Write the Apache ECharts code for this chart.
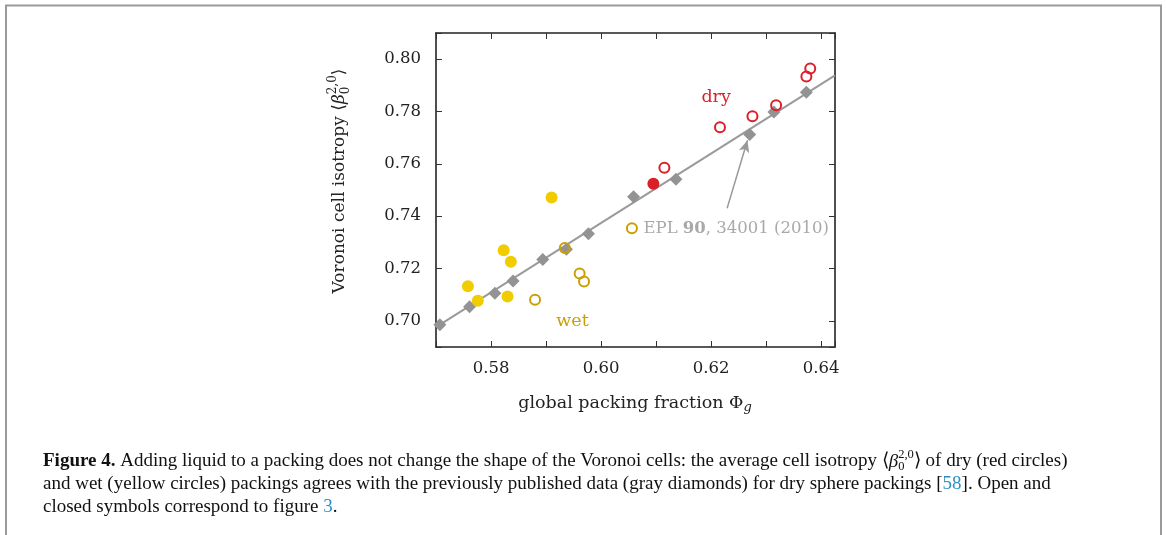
<!DOCTYPE html>
<html><head><meta charset="utf-8">
<script src="https://cdn.jsdelivr.net/npm/echarts@6/dist/echarts.min.js"></script>
<style>html,body{margin:0;padding:0;background:#fff}#c{width:1166px;height:535px}</style>
</head><body><div id="c"></div>
<script>
// ---- data ----
const xTickLabels = [0.58, 0.60, 0.62, 0.64];
const yTickLabels = [0.70, 0.72, 0.74, 0.76, 0.78, 0.80];
const literatureDiamonds = [[0.5707,0.6985],[0.5761,0.7054],[0.5807,0.7105],[0.5840,0.7152],[0.5894,0.7234],[0.5937,0.7274],[0.5977,0.7333],[0.6059,0.7474],[0.6136,0.7541],[0.6270,0.7712],[0.6314,0.7798],[0.6373,0.7874]];
const fitLine = [[0.5700,0.6976],[0.6425,0.7938]];
const dryOpen = [[0.6115,0.7585],[0.6216,0.7740],[0.6275,0.7782],[0.6318,0.7824],[0.6373,0.7934],[0.6380,0.7964]];
const dryClosed = [[0.6095,0.7524]];
const wetClosed = [[0.5758,0.7132],[0.5776,0.7077],[0.5823,0.7270],[0.5836,0.7226],[0.5830,0.7093],[0.5910,0.7471]];
const wetOpen = [[0.5880,0.7081],[0.5934,0.7278],[0.5961,0.7181],[0.5969,0.7150],[0.6056,0.7354]];

const SERIF = 'DejaVu Serif';
const CAP = 'Liberation Serif';
const RED = '#d9202a', YEL = '#f0cc00', GOLD = '#c9a000', GRAY = '#939393';

const ctx = document.createElement('canvas').getContext('2d');
function fontStr(p){ return `${p.st||'normal'} ${p.w||'normal'} ${p.size}px "${p.fam}"`; }
function meas(p){ ctx.font = fontStr(p); return ctx.measureText(p.t).width; }
function txt(p, x, y){
  return {type:'text', x:x, y:y+(p.dy||0), silent:true,
    style:{text:p.t, fill:p.c||'#222', fontSize:p.size, fontFamily:p.fam, fontWeight:p.w||'normal', fontStyle:p.st||'normal',
      align:'left', verticalAlign:'middle', textAlign:'left', textVerticalAlign:'middle'}};
}
function run(pieces, def){
  const out=[]; let x=0;
  pieces.forEach(p=>{
    if(p.stack){
      let w=0; p.stack.forEach(q=>{q=Object.assign({},def,q); out.push(txt(q,x,0)); w=Math.max(w,meas(q));});
      x+=w;
    } else {
      const q=Object.assign({},def,p); out.push(txt(q,x,0)); x+=meas(q);
    }
  });
  return {children:out, width:x};
}
function placed(r, x, y, center, rot){
  const off = center ? -r.width/2 : 0;
  r.children.forEach(c=>{c.x+=off;});
  return {type:'group', x:x, y:y, rotation:rot||0, children:r.children, silent:true};
}

const xTitle = run([{t:'global packing fraction Φ'},{t:'g', st:'italic', size:13, dy:5}], {size:17.5, fam:SERIF, c:'#222'});
const yTitle = run([{t:'Voronoi cell isotropy ⟨'},{t:'β', st:'italic'},{stack:[{t:'2,0', size:12, dy:-7},{t:'0', size:12, dy:6}]},{t:'⟩'}], {size:17, fam:SERIF, c:'#222'});

const capDef = {size:19, fam:CAP, c:'#111'};
const BLUE = '#2a8fc7';
const cap1 = run([{t:'Figure 4.', w:'bold'},{t:' Adding liquid to a packing does not change the shape of the Voronoi cells: the average cell isotropy ⟨'},{t:'β', st:'italic'},{stack:[{t:'2,0', size:12.5, dy:-7},{t:'0', size:12.5, dy:5}]},{t:'⟩ of dry (red circles)'}], capDef);
const cap2 = run([{t:'and wet (yellow circles) packings agrees with the previously published data (gray diamonds) for dry sphere packings ['},{t:'58', c:BLUE},{t:']. Open and'}], capDef);
const cap3 = run([{t:'closed symbols correspond to figure '},{t:'3', c:BLUE},{t:'.'}], capDef);

const near = (arr, v) => arr.some(a => Math.abs(a - v) < 1e-6);
const axisLineStyle = {color:'#222', width:1.6};
const tickStyle = {show:true, inside:true, length:6, lineStyle:{color:'#333', width:1}};
const labelStyle = {fontFamily:SERIF, fontSize:16.5, color:'#222'};

const chart = echarts.init(document.getElementById('c'), null, {renderer:'canvas'});
const option = {
  animation:false,
  backgroundColor:'#fff',
  grid:{left:436, right:331, top:33, bottom:188, containLabel:false},
  xAxis:[
    {type:'value', min:0.57, max:0.6425, interval:0.01, position:'bottom',
     axisLine:{show:true, lineStyle:axisLineStyle}, axisTick:tickStyle, splitLine:{show:false},
     axisLabel:Object.assign({margin:13, formatter:v=>near(xTickLabels,v)?v.toFixed(2):''}, labelStyle)},
    {type:'value', min:0.57, max:0.6425, interval:0.01, position:'top',
     axisLine:{show:true, lineStyle:axisLineStyle}, axisTick:tickStyle, splitLine:{show:false}, axisLabel:{show:false}}
  ],
  yAxis:[
    {type:'value', min:0.69, max:0.81, minInterval:0.02, maxInterval:0.02, splitNumber:6, position:'left',
     axisLine:{show:true, lineStyle:axisLineStyle}, axisTick:tickStyle, splitLine:{show:false},
     axisLabel:Object.assign({margin:15, formatter:v=>near(yTickLabels,v)?v.toFixed(2):''}, labelStyle)},
    {type:'value', min:0.69, max:0.81, minInterval:0.02, maxInterval:0.02, splitNumber:6, position:'right',
     axisLine:{show:true, lineStyle:axisLineStyle}, axisTick:tickStyle, splitLine:{show:false}, axisLabel:{show:false}}
  ],
  series:[
    {type:'line', data:fitLine, symbol:'none', silent:true, z:1,
     lineStyle:{color:'#9a9a9a', width:2},
     markLine:{silent:true, symbol:['none','arrow'], symbolSize:[8,12], label:{show:false},
       lineStyle:{color:'#9a9a9a', width:1.5, type:'solid'},
       data:[[{coord:[0.6229,0.7430]},{coord:[0.6266,0.7690]}]]},
     markPoint:{silent:true, symbol:'circle', symbolSize:0,
       data:[
         {coord:[0.6209,0.7852], label:{show:true, position:'inside', formatter:'dry', color:RED, fontFamily:SERIF, fontSize:17.5}},
         {coord:[0.5948,0.6997], label:{show:true, position:'inside', formatter:'wet', color:GOLD, fontFamily:SERIF, fontSize:17.5}},
         {coord:[0.6077,0.7353], label:{show:true, position:'right', distance:0, color:'#a9a9a9', fontFamily:SERIF, fontSize:16.5,
           formatter:'{a|EPL }{b|90}{a|, 34001 (2010)}',
           rich:{a:{color:'#a9a9a9', fontFamily:SERIF, fontSize:16.5}, b:{color:'#a9a9a9', fontFamily:SERIF, fontSize:16.5, fontWeight:'bold'}}}}
       ]}},
    {type:'scatter', data:literatureDiamonds, symbol:'diamond', symbolSize:13, z:2, silent:true,
     itemStyle:{color:GRAY, opacity:1}},
    {type:'scatter', data:wetClosed, symbol:'circle', symbolSize:12, z:3, silent:true, itemStyle:{color:YEL, opacity:1}},
    {type:'scatter', data:dryClosed, symbol:'circle', symbolSize:12, z:3, silent:true, itemStyle:{color:RED, opacity:1}},
    {type:'scatter', data:wetOpen, symbol:'circle', symbolSize:10, z:4, silent:true,
     itemStyle:{color:'rgba(255,255,255,0)', borderColor:GOLD, borderWidth:2, opacity:1}},
    {type:'scatter', data:dryOpen, symbol:'circle', symbolSize:10, z:4, silent:true,
     itemStyle:{color:'rgba(255,255,255,0)', borderColor:RED, borderWidth:2, opacity:1}}
  ],
  graphic:[
    {type:'polyline', silent:true, shape:{points:[[6,535],[6,5.5],[1161,5.5],[1161,535]]}, style:{stroke:'#9a9a9a', lineWidth:2, fill:null}},
    placed(xTitle, 635, 403, true, 0),
    placed(yTitle, 340, 181, true, Math.PI/2),
    placed(cap1, 43, 461.5, false, 0),
    placed(cap2, 43, 484.5, false, 0),
    placed(cap3, 43, 507.5, false, 0)
  ]
};
chart.setOption(option);
</script>
</body></html>
